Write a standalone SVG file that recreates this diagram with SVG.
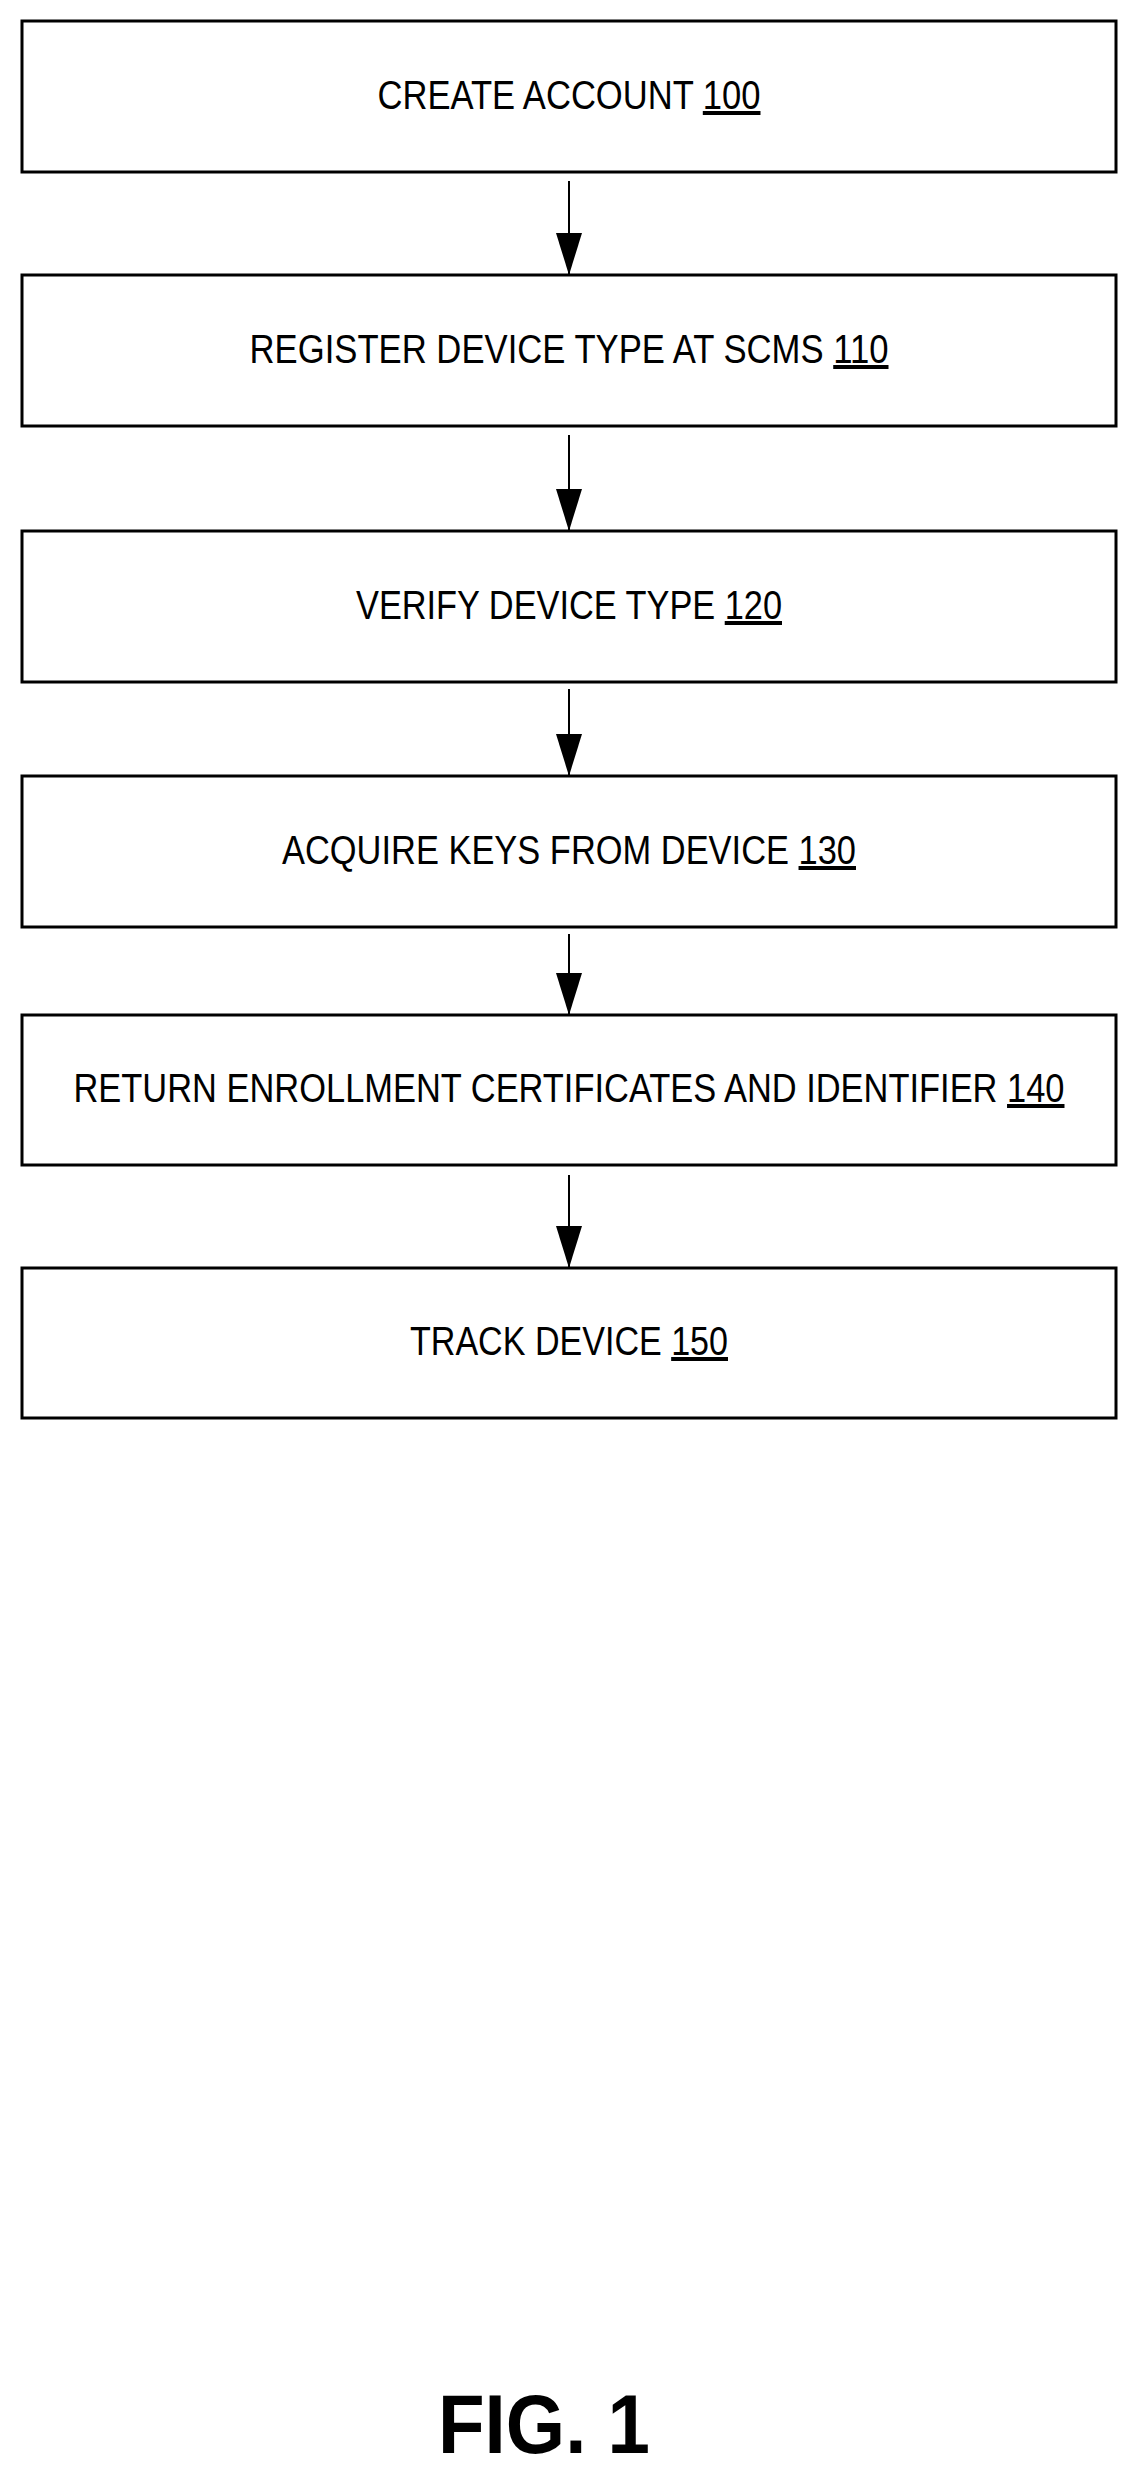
<svg xmlns="http://www.w3.org/2000/svg" width="1132" height="2475" viewBox="0 0 1132 2475">
<style>
.box{fill:#fff;stroke:#000;stroke-width:3}
.t{font-family:"Liberation Sans",Arial,sans-serif;font-size:40px;fill:#000;text-anchor:middle}
.n{text-decoration:underline}
.c{stroke:#000;stroke-width:2;fill:none}
</style>
<defs><marker id="ah" markerWidth="42" markerHeight="26" refX="42" refY="13" orient="auto" markerUnits="userSpaceOnUse" viewBox="0 0 42 26"><path d="M0,0 L42,13 L0,26 Z" fill="#000"/></marker></defs>
<rect width="1132" height="2475" fill="#fff"/>
<g id="n100"><rect class="box" x="22" y="21" width="1094" height="151"/><text class="t" x="569" y="109" textLength="383" lengthAdjust="spacingAndGlyphs">CREATE ACCOUNT <tspan class="n">100</tspan></text></g>
<g id="n110"><rect class="box" x="22" y="275" width="1094" height="151"/><text class="t" x="569" y="363" textLength="639" lengthAdjust="spacingAndGlyphs">REGISTER DEVICE TYPE AT SCMS <tspan class="n">110</tspan></text></g>
<g id="n120"><rect class="box" x="22" y="531" width="1094" height="151"/><text class="t" x="569" y="619" textLength="426" lengthAdjust="spacingAndGlyphs">VERIFY DEVICE TYPE <tspan class="n">120</tspan></text></g>
<g id="n130"><rect class="box" x="22" y="776" width="1094" height="151"/><text class="t" x="569" y="864" textLength="574" lengthAdjust="spacingAndGlyphs">ACQUIRE KEYS FROM DEVICE <tspan class="n">130</tspan></text></g>
<g id="n140"><rect class="box" x="22" y="1015" width="1094" height="150"/><text class="t" x="569" y="1102" textLength="991" lengthAdjust="spacingAndGlyphs">RETURN ENROLLMENT CERTIFICATES AND IDENTIFIER <tspan class="n">140</tspan></text></g>
<g id="n150"><rect class="box" x="22" y="1268" width="1094" height="150"/><text class="t" x="569" y="1355" textLength="318" lengthAdjust="spacingAndGlyphs">TRACK DEVICE <tspan class="n">150</tspan></text></g>
<g id="connectors">
<line class="c" x1="569" y1="181" x2="569" y2="275" marker-end="url(#ah)"/>
<line class="c" x1="569" y1="435" x2="569" y2="531" marker-end="url(#ah)"/>
<line class="c" x1="569" y1="689" x2="569" y2="776" marker-end="url(#ah)"/>
<line class="c" x1="569" y1="934" x2="569" y2="1015" marker-end="url(#ah)"/>
<line class="c" x1="569" y1="1175" x2="569" y2="1268" marker-end="url(#ah)"/>
</g>
<text x="544" y="2453" font-family="'Liberation Sans',Arial,sans-serif" font-weight="bold" font-size="83" text-anchor="middle" textLength="212" lengthAdjust="spacingAndGlyphs">FIG. 1</text>
</svg>
